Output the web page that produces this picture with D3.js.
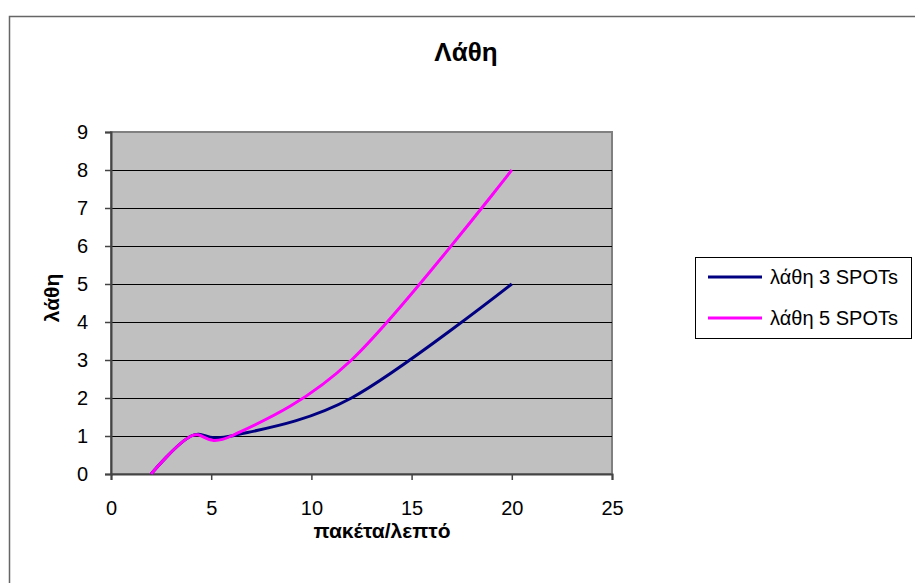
<!DOCTYPE html>
<html lang="el">
<head>
	<meta charset="utf-8">
	<title>Λάθη</title>
	<script src="https://cdn.jsdelivr.net/npm/d3@7"></script>
	<style>
		body { margin: 0; background: #fff; }
		svg { font-family: "Liberation Sans", Arial, sans-serif; }
	</style>
</head>
<body>
<script>
	// values
	var rates = [2, 4, 6, 12, 20];
	var errors3 = [0, 1, 1, 2, 5];
	var errors5 = [0, 1, 1, 3, 8];
	var seriesNames = ["λάθη 3 SPOTs", "λάθη 5 SPOTs"];
	var xTicks = [0, 5, 10, 15, 20, 25];
	var yTicks = [0, 1, 2, 3, 4, 5, 6, 7, 8, 9];

	var w = 915, h = 583;
	var plot = { left: 111, top: 132, right: 612, bottom: 474 };

	var svg = d3.select("body").append("svg")
		.attr("width", w)
		.attr("height", h);

	// chart area border (runs off the right and bottom edges)
	svg.append("rect")
		.attr("x", 9.5).attr("y", 16.5)
		.attr("width", 920).attr("height", 600)
		.attr("fill", "#fff")
		.attr("stroke", "#666")
		.attr("stroke-width", 1.5);

	var x = d3.scaleLinear().domain([0, 25]).range([plot.left, plot.right]);
	var y = d3.scaleLinear().domain([0, 9]).range([plot.bottom, plot.top]);

	// grey plot area
	svg.append("rect")
		.attr("x", plot.left).attr("y", plot.top)
		.attr("width", plot.right - plot.left)
		.attr("height", plot.bottom - plot.top)
		.attr("fill", "#c0c0c0")
		.attr("stroke", "#808080")
		.attr("stroke-width", 2);

	// horizontal gridlines
	svg.selectAll("line.grid")
		.data(yTicks.slice(1, -1))
		.enter().append("line")
		.attr("class", "grid")
		.attr("x1", plot.left).attr("x2", plot.right)
		.attr("y1", function(d) { return Math.round(y(d)) + 0.5; })
		.attr("y2", function(d) { return Math.round(y(d)) + 0.5; })
		.attr("stroke", "#000")
		.attr("stroke-width", 1);

	// axes
	var xAxis = d3.axisBottom(x).tickValues(xTicks).tickSize(6).tickPadding(21);
	var yAxis = d3.axisLeft(y).tickValues(yTicks).tickSize(6).tickPadding(17);

	var gx = svg.append("g")
		.attr("transform", "translate(0," + plot.bottom + ")")
		.call(xAxis);
	var gy = svg.append("g")
		.attr("transform", "translate(" + plot.left + ",0)")
		.call(yAxis);

	[gx, gy].forEach(function(g) {
		g.select(".domain").attr("stroke", "#444").attr("stroke-width", 2);
		g.selectAll(".tick line").attr("stroke", "#444").attr("stroke-width", 1.5);
		g.selectAll(".tick text")
			.attr("fill", "#000")
			.attr("font-size", "20px")
			.attr("font-family", "Liberation Sans, Arial, sans-serif");
	});

	// smooth lines like the spreadsheet's smoothed series
	var line = d3.line()
		.x(function(d) { return x(d[0]); })
		.y(function(d) { return y(d[1]); })
		.curve(d3.curveCardinal.tension(0));

	var series = [
		{ values: errors3, color: "#000080" },
		{ values: errors5, color: "#ff00ff" }
	];

	series.forEach(function(s) {
		svg.append("path")
			.datum(rates.map(function(r, i) { return [r, s.values[i]]; }))
			.attr("d", line)
			.attr("fill", "none")
			.attr("stroke", s.color)
			.attr("stroke-width", 3);
	});

	// titles
	svg.append("text")
		.attr("x", 466).attr("y", 61)
		.attr("text-anchor", "middle")
		.attr("font-size", "26px")
		.attr("font-weight", "bold")
		.text("Λάθη");

	svg.append("text")
		.attr("x", 382).attr("y", 538)
		.attr("text-anchor", "middle")
		.attr("font-size", "21px")
		.attr("font-weight", "bold")
		.text("πακέτα/λεπτό");

	svg.append("text")
		.attr("transform", "translate(59,298) rotate(-90)")
		.attr("text-anchor", "middle")
		.attr("font-size", "21px")
		.attr("font-weight", "bold")
		.text("λάθη");

	// legend
	var legend = svg.append("g");
	legend.append("rect")
		.attr("x", 695.5).attr("y", 257.5)
		.attr("width", 216).attr("height", 81)
		.attr("fill", "#fff")
		.attr("stroke", "#000")
		.attr("stroke-width", 1);

	seriesNames.forEach(function(name, i) {
		var ly = 277 + i * 41;
		legend.append("line")
			.attr("x1", 708).attr("x2", 762)
			.attr("y1", ly).attr("y2", ly)
			.attr("stroke", series[i].color)
			.attr("stroke-width", 3);
		legend.append("text")
			.attr("x", 770).attr("y", ly + 7)
			.attr("font-size", "20px")
			.text(name);
	});
</script>
</body>
</html>
